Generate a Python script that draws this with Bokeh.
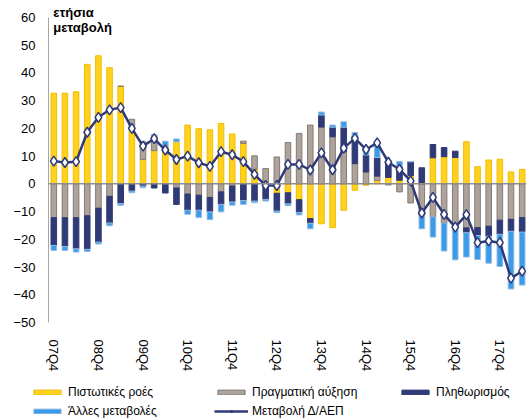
import numpy as np
from bokeh.plotting import figure
from bokeh.layouts import column
from bokeh.models import (ColumnDataSource, Range1d, FixedTicker, Span, Label,
                          Legend, LegendItem)
from bokeh.embed import file_html
from bokeh.resources import INLINE

quarters = ["07Q4", "08Q1", "08Q2", "08Q3", "08Q4", "09Q1", "09Q2", "09Q3", "09Q4",
            "10Q1", "10Q2", "10Q3", "10Q4", "11Q1", "11Q2", "11Q3", "11Q4",
            "12Q1", "12Q2", "12Q3", "12Q4", "13Q1", "13Q2", "13Q3", "13Q4",
            "14Q1", "14Q2", "14Q3", "14Q4", "15Q1", "15Q2", "15Q3", "15Q4",
            "16Q1", "16Q2", "16Q3", "16Q4", "17Q1", "17Q2", "17Q3", "17Q4",
            "18Q1", "18Q2"]

credit_flows = [32.7, 32.7, 33.2, 43.1, 46.2, 41.9, 35.2, 20.6, 8.8, 12.0, 13.6, 15.2,
                21.2, 19.9, 19.5, 21.8, 18.0, 14.6, 5.3, 0.0, -3.4, -3.2, -5.7, -12.5,
                -14.4, -15.8, -9.5, -2.3, -0.5, 1.2, 2.3, 1.3, 3.0, 0.0, 9.4, 9.8,
                9.5, 15.2, 6.2, 8.6, 8.9, 4.3, 5.2]
real_growth = [-12.2, -12.2, -12.2, -11.5, -8.8, -4.5, 0.0, 2.7, 6.4, 5.6, 0.0, -1.5,
               -3.7, -4.1, -4.9, -2.9, -0.8, 0.8, 4.8, 5.5, 9.7, 14.9, 18.2, 21.2,
               20.5, 17.0, 11.6, 7.3, 4.3, 1.6, -0.4, -2.9, -6.9, -10.5, -11.9, -14.1,
               -15.6, -15.9, -15.8, -15.3, -13.1, -12.8, -12.2]
inflation = [-10.0, -10.4, -11.2, -12.1, -12.2, -9.6, -7.1, -2.6, -0.8, -1.5, -3.3, -5.9,
             -5.8, -5.4, -5.2, -4.5, -5.7, -6.0, -6.2, -5.6, -6.4, -4.0, -4.6, -1.7,
             4.3, 3.4, 8.8, 10.0, 6.1, 6.7, 5.9, 4.9, 5.0, 5.8, 4.8, 3.3,
             2.3, -1.7, -2.8, -3.6, -5.1, -4.3, -5.2]
other_changes = [-1.8, -1.4, -1.2, -0.8, -0.7, -1.0, -0.6, -0.6, -0.6, 0.0, 1.8, 1.0,
                 -1.5, -2.6, -2.8, -2.7, -1.2, -1.4, -0.6, -0.6, -0.6, -0.7, -0.9, -2.0,
                 1.1, 0.8, 2.0, 1.2, 2.3, 5.2, 0.0, 1.9, 0.0, -5.7, -7.3, -10.1,
                 -11.8, -8.8, -8.7, -9.7, -11.6, -20.8, -19.1]
debt_change = [8.2, 7.7, 8.0, 18.6, 24.0, 26.7, 27.5, 20.0, 13.6, 16.3, 12.2, 8.8,
               10.0, 7.6, 6.3, 11.6, 10.5, 8.0, 3.4, -0.6, -0.6, 7.0, 7.0, 5.0,
               11.2, 5.1, 12.9, 16.4, 12.4, 14.8, 7.8, 5.2, 1.1, -10.5, -4.9, -11.0,
               -15.6, -11.1, -21.2, -20.6, -21.2, -34.0, -31.5]

series_names = ["Πιστωτικές ροές", "Πραγματική αύξηση", "Πληθωρισμός", "Άλλες μεταβολές"]
line_name = "Μεταβολή Δ/ΑΕΠ"
y_title = ["ετήσια", "μεταβολή"]

fills = ["#FFD21F", "#ADA39B", "#2F3A76", "#3A9BEA"]
edges = ["#F2BC00", "#857A73", "#2F3A76", "#93B9DE"]
navy = "#2E3A78"
FONT = "Liberation Sans"

x = np.arange(len(quarters))
p = figure(width=526, height=375, output_backend="svg", toolbar_location=None,
           title=None,
           x_range=Range1d(-0.475, 42.39), y_range=Range1d(-50, 66.13),
           min_border_left=48, min_border_right=0, min_border_top=0,
           min_border_bottom=53)
p.outline_line_color = None
p.xgrid.visible = False
p.ygrid.visible = False
p.background_fill_color = "white"
p.border_fill_color = "white"

pos_base = np.zeros(len(x))
neg_base = np.zeros(len(x))
for vals, fc, ec in zip([credit_flows, real_growth, inflation, other_changes], fills, edges):
    v = np.array(vals, dtype=float)
    pos = np.where(v > 0, v, 0.0)
    neg = np.where(v < 0, v, 0.0)
    bottom = np.where(v >= 0, pos_base, neg_base + neg)
    top = np.where(v >= 0, pos_base + pos, neg_base)
    src = ColumnDataSource(dict(x=x, bottom=bottom, top=top))
    p.vbar(x="x", bottom="bottom", top="top", width=0.5, source=src,
           fill_color=fc, line_color=ec, line_width=1)
    pos_base = pos_base + pos
    neg_base = neg_base + neg

p.add_layout(Span(location=0, dimension="width", line_color="#8C8C8C", line_width=1.5))

lsrc = ColumnDataSource(dict(x=x, y=debt_change))
p.line("x", "y", source=lsrc, line_color=navy, line_width=2.5)
p.scatter("x", "y", source=lsrc, marker="diamond", size=10, fill_color="white",
          line_color=navy, line_width=1.5)

# axes
p.yaxis.ticker = FixedTicker(ticks=list(range(-50, 61, 10)))
p.yaxis.bounds = (-50, 60)
p.yaxis.axis_line_color = "#A6A6A6"
p.yaxis.major_tick_line_color = None
p.yaxis.minor_tick_line_color = None
p.yaxis.major_tick_out = 0
p.yaxis.major_tick_in = 0
p.yaxis.minor_tick_out = 0
p.yaxis.major_label_standoff = 13
p.yaxis.major_label_text_font = FONT
p.yaxis.major_label_text_font_size = "13px"
p.yaxis.major_label_text_color = "#000000"

q4_ticks = [i for i, q in enumerate(quarters) if q.endswith("Q4")]
p.xaxis.ticker = FixedTicker(ticks=q4_ticks)
p.xaxis.major_label_overrides = {i: quarters[i] for i in q4_ticks}
p.xaxis.major_label_orientation = "vertical"
p.xaxis.axis_line_color = None
p.xaxis.major_tick_line_color = None
p.xaxis.minor_tick_line_color = None
p.xaxis.major_tick_out = 0
p.xaxis.major_tick_in = 0
p.xaxis.minor_tick_out = 0
p.xaxis.major_label_standoff = 17
p.xaxis.major_label_text_font = FONT
p.xaxis.major_label_text_font_size = "13px"
p.xaxis.major_label_text_color = "#000000"

for txt, yv in zip(y_title, [61.7, 56.3]):
    p.add_layout(Label(x=-0.05, y=yv, text=txt, text_font=FONT, text_font_size="13px",
                       text_font_style="bold", text_baseline="middle", text_align="left",
                       text_color="#000000"))

# legend figure: proxy glyphs placed outside its visible ranges
lf = figure(width=526, height=45, output_backend="svg", toolbar_location=None,
            title=None, x_range=Range1d(0, 1), y_range=Range1d(0, 1),
            x_axis_type=None, y_axis_type=None,
            min_border_left=0, min_border_right=0, min_border_top=0, min_border_bottom=0)
lf.outline_line_color = None
lf.xgrid.visible = False
lf.ygrid.visible = False
items = []
for name, fc, ec in zip(series_names, fills, edges):
    r = lf.vbar(x="x", bottom="bottom", top="top", width=0.5,
                source=ColumnDataSource(dict(x=[-100], bottom=[-100], top=[-99])),
                fill_color=fc, line_color=ec, line_width=1)
    items.append(LegendItem(label=name, renderers=[r]))
esrc = ColumnDataSource(dict(x=[-100, -99], y=[-100, -100]))
lr = lf.line("x", "y", source=esrc, line_color=navy, line_width=2.5)
sr = lf.scatter("x", "y", source=esrc, marker="diamond", size=9, fill_color="white",
                line_color=navy, line_width=1.5)
items.append(LegendItem(label=line_name, renderers=[lr, sr]))
legend = Legend(items=items, ncols=3, orientation="horizontal", location=(30, 1),
                glyph_width=34, glyph_height=6, label_standoff=4, label_width=143,
                label_height=16, spacing=3, padding=0, margin=0,
                border_line_color=None, background_fill_alpha=0,
                label_text_font=FONT, label_text_font_size="12px",
                label_text_color="#000000")
lf.add_layout(legend, "center")

layout = column(p, column(lf, spacing=0), spacing=0)
open("out.html", "w").write(file_html(layout, INLINE))
